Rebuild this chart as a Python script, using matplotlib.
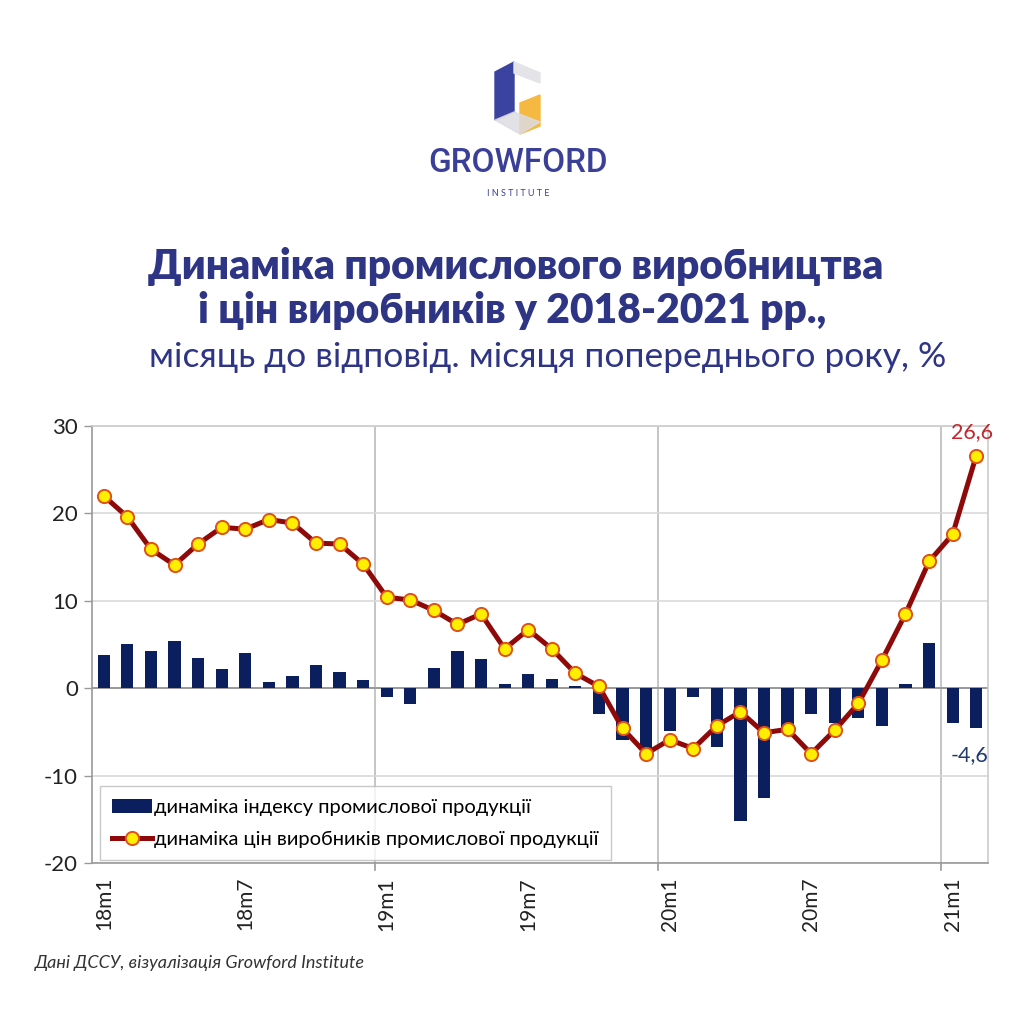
import numpy as np
import matplotlib.pyplot as plt
from matplotlib.patches import Polygon

# Дані: місяць до відповідного місяця попереднього року, %
months = [f"{y}m{m}" for y in (18, 19, 20) for m in range(1, 13)] + ["21m1", "21m2"]
industry = [3.8, 5.1, 4.2, 5.4, 3.4, 2.2, 4.0, 0.7, 1.4, 2.6, 1.8, 0.9,
            -1.0, -1.8, 2.3, 4.2, 3.3, 0.5, 1.6, 1.1, 0.25, -2.9, -5.9, -6.8,
            -4.9, -1.0, -6.7, -15.2, -12.6, -4.5, -2.9, -4.0, -3.4, -4.3, 0.5, 5.2,
            -4.0, -4.6]
prices = [22.0, 19.6, 15.9, 14.1, 16.5, 18.4, 18.2, 19.3, 18.9, 16.6, 16.5, 14.2,
          10.4, 10.1, 8.9, 7.3, 8.5, 4.5, 6.7, 4.5, 1.7, 0.2, -4.6, -7.5,
          -5.9, -6.9, -4.3, -2.7, -5.1, -4.7, -7.5, -4.8, -1.75, 3.2, 8.5, 14.5,
          17.6, 26.6]
tick_labels = ["18m1", "18m7", "19m1", "19m7", "20m1", "20m7", "21m1"]
labels = ["динаміка індексу промислової продукції",
          "динаміка цін виробників промислової продукції"]

navy = "#0b1f5e"
red = "#8e0a0a"
title_col = "#2f3585"

plt.rcParams['font.family'] = ['Lato', 'DejaVu Sans']

fig = plt.figure(figsize=(10.24, 10.24), dpi=100)
fig.patch.set_facecolor("white")

# фонові елементи (логотип, заголовок) у піксельних координатах
bg = fig.add_axes([0, 0, 1, 1])
bg.set_xlim(0, 1024)
bg.set_ylim(1024, 0)
bg.axis('off')

# логотип
bg.add_patch(Polygon([(495, 72), (514, 62), (514, 112), (495, 120)], closed=True, color="#3b43a0"))
bg.add_patch(Polygon([(514, 62), (540, 73), (540, 83), (514, 73)], closed=True, color="#e3e3e8"))
bg.add_patch(Polygon([(520, 103), (540, 95), (540, 126), (520, 134)], closed=True, color="#f5b942"))
bg.add_patch(Polygon([(495, 120), (514, 112), (540, 122), (520, 134)], closed=True, color="#dcdce2", alpha=0.85))
bg.text(518, 163, "GROWFORD", ha="center", va="center", fontsize=24, fontweight="medium",
        color="#3a3f97", family=["Roboto", "DejaVu Sans"])
bg.text(518, 193, "I N S T I T U T E", ha="center", va="center", fontsize=6.5, color="#3a3f97")

# заголовок
bg.text(516, 267, "Динаміка промислового виробництва", ha="center", va="center",
        fontsize=29.3, fontweight="heavy", color=title_col)
bg.text(512, 311, "і цін виробників у 2018-2021 рр.,", ha="center", va="center",
        fontsize=29.3, fontweight="heavy", color=title_col)
bg.text(548, 357, "місяць до відповід. місяця попереднього року, %", ha="center", va="center",
        fontsize=25.5, color=title_col)
bg.text(35, 963, "Дані ДССУ, візуалізація Growford Institute", ha="left", va="center",
        fontsize=13, style="italic", color="#333333")

# основний графік
ax = fig.add_axes([92 / 1024, 1 - 863 / 1024, 896 / 1024, 437 / 1024])
x = np.arange(len(months))
bars = ax.bar(x, industry, width=0.52, color=navy, zorder=3)
line, = ax.plot(x, prices, color=red, lw=3.6, marker="o", markersize=9.5,
                markerfacecolor="#ffee00", markeredgecolor="#e0501a", markeredgewidth=1.4,
                zorder=4)

ax.set_xlim(-0.5, len(months) - 0.5)
ax.set_ylim(-20, 30)
ax.set_yticks([-20, -10, 0, 10, 20, 30])
ax.set_yticklabels(["-20", "-10", "0", "10", "20", "30"])
ax.tick_params(axis="y", length=6, width=1, color="#999999", pad=4, labelsize=16, labelcolor="#222222")

ax.set_xticks([months.index(t) for t in tick_labels])
ax.set_xticklabels(tick_labels, rotation=90, fontsize=15, color="#222222")
ax.tick_params(axis="x", length=0, pad=10)
# поділки між роками
for b in (11.5, 23.5, 35.5):
    ax.axvline(b, color="#bbbbbb", lw=1.2, zorder=1)
    ax.plot([b, b], [-20, -20.8], color="#999999", lw=1.2, clip_on=False)

ax.yaxis.grid(True, color="#d9d9d9", lw=1.2, zorder=0)
ax.axhline(0, color="#9a9a9a", lw=1.4, zorder=2)
for s in ("left", "bottom"):
    ax.spines[s].set_color("#999999")
    ax.spines[s].set_linewidth(1.2)
for s in ("top", "right"):
    ax.spines[s].set_color("#cccccc")
    ax.spines[s].set_linewidth(1.2)

ax.annotate("26,6", (x[-1], prices[-1]), xytext=(-3, 10), textcoords="offset points",
            ha="center", va="bottom", fontsize=15.5, color="#c0282d")
ax.annotate("-4,6", (x[-1], industry[-1]), xytext=(-5, -12), textcoords="offset points",
            ha="center", va="top", fontsize=15.5, color="#1f3a6e")

leg = ax.legend([bars, line], labels, loc="lower left", bbox_to_anchor=(0.009, 0.007),
                borderaxespad=0, fontsize=14.5, frameon=True, fancybox=False,
                edgecolor="#bbbbbb", handlelength=2.0, handletextpad=0.1,
                labelspacing=0.75, borderpad=0.6)
leg.get_frame().set_linewidth(1.0)

fig.savefig("out.png", dpi=100, facecolor="white")
